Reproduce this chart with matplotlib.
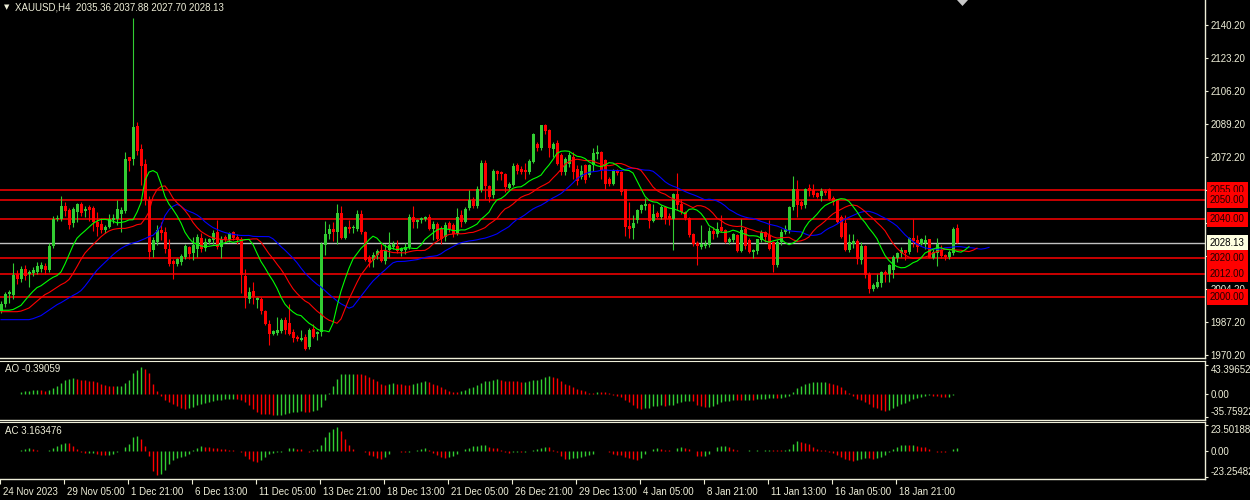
import numpy as np
import pandas as pd
import matplotlib
matplotlib.use("Agg")
import matplotlib.pyplot as plt
from matplotlib.patches import Polygon
from matplotlib.transforms import ScaledTranslation, blended_transform_factory

BG = "black"
FG = "#EEEED8"
BULL = "#32CD32"
BEAR = "#FF0000"
FONT = "Liberation Sans"

# XAUUSD H4 bars, 24 Nov 2023 .. 22 Jan 2024
opens = [
    1993.0, 1996.3, 2001.5, 2001.0, 2011.8, 2009.2, 2014.7, 2012.0, 2012.2, 2013.0,
    2014.7, 2016.1, 2013.9, 2026.4, 2040.0, 2040.0, 2046.8, 2044.8, 2038.0, 2043.8,
    2047.9, 2044.2, 2046.2, 2045.9, 2038.8, 2037.5, 2034.4, 2036.2, 2039.5, 2040.0,
    2043.0, 2044.4, 2072.0, 2071.0, 2088.0, 2076.5, 2068.5, 2049.9, 2024.2, 2028.5,
    2034.5, 2033.6, 2025.0, 2018.7, 2017.3, 2018.2, 2020.7, 2026.0, 2022.5, 2025.0,
    2030.5, 2025.4, 2028.5, 2029.3, 2033.3, 2026.0, 2031.0, 2029.3, 2033.6, 2031.0,
    2030.2, 2011.0, 1999.0, 2003.2, 1998.5, 1998.9, 1992.9, 1986.4, 1981.2, 1981.5,
    1982.4, 1988.1, 1986.8, 1982.0, 1979.5, 1977.8, 1979.5, 1974.4, 1983.8, 1981.0,
    1981.8, 2026.8, 2032.7, 2035.3, 2033.6, 2043.1, 2030.7, 2036.2, 2035.5, 2035.3,
    2042.7, 2033.6, 2020.7, 2019.0, 2021.6, 2024.2, 2018.7, 2024.2, 2026.0, 2026.4,
    2023.8, 2024.5, 2025.9, 2041.4, 2038.5, 2039.6, 2040.5, 2041.4, 2035.3, 2037.9,
    2035.3, 2031.0, 2038.0, 2037.0, 2032.7, 2042.2, 2038.8, 2045.8, 2050.8, 2046.9,
    2055.1, 2069.3, 2057.3, 2052.5, 2065.0, 2064.5, 2063.6, 2056.4, 2057.7, 2068.0,
    2065.8, 2065.3, 2064.5, 2069.7, 2079.0, 2077.0, 2088.6, 2086.0, 2076.5, 2079.2,
    2073.1, 2064.5, 2068.8, 2072.3, 2066.0, 2062.0, 2068.0, 2062.8, 2067.9, 2073.5,
    2075.0, 2070.5, 2061.0, 2058.5, 2065.3, 2064.5, 2055.5, 2036.6, 2035.8, 2039.6,
    2044.8, 2046.9, 2047.9, 2039.3, 2043.3, 2041.4, 2046.5, 2042.0, 2040.0, 2052.9,
    2048.2, 2043.9, 2041.0, 2032.7, 2028.0, 2025.9, 2026.2, 2026.8, 2034.0, 2032.3,
    2036.2, 2034.5, 2028.5, 2029.6, 2031.9, 2023.8, 2035.3, 2029.6, 2023.3, 2023.8,
    2029.3, 2033.6, 2031.9, 2028.5, 2016.4, 2028.5, 2033.6, 2034.5, 2046.5, 2055.5,
    2049.0, 2047.3, 2056.4, 2055.0, 2053.4, 2052.0, 2054.7, 2055.5, 2051.2, 2050.3,
    2041.4, 2038.2, 2024.5, 2027.3, 2029.0, 2019.0, 2026.2, 2012.0, 2004.0, 2005.3,
    2007.3, 2013.0, 2012.1, 2014.0, 2020.0, 2022.9, 2024.2, 2023.3, 2030.7, 2029.3,
    2027.6, 2027.7, 2029.7, 2020.4, 2022.9, 2024.2, 2021.6, 2020.7, 2022.5, 2035.36,
]
highs = [
    1998.0, 2002.7, 2003.5, 2017.8, 2013.9, 2016.0, 2016.4, 2014.0, 2015.5, 2018.0,
    2018.0, 2017.5, 2028.0, 2042.0, 2042.5, 2052.0, 2049.0, 2046.0, 2046.5, 2048.6,
    2049.0, 2047.0, 2047.5, 2047.0, 2043.9, 2041.0, 2037.0, 2043.0, 2043.0, 2050.0,
    2046.5, 2075.0, 2072.3, 2144.0, 2090.0, 2078.7, 2071.4, 2052.0, 2031.0, 2037.0,
    2038.8, 2036.0, 2030.0, 2019.5, 2020.0, 2022.0, 2027.5, 2026.4, 2031.0, 2032.7,
    2033.0, 2030.7, 2030.5, 2034.8, 2039.6, 2031.5, 2032.0, 2033.6, 2034.0, 2032.7,
    2031.0, 2014.7, 2005.2, 2007.8, 2000.0, 2000.1, 1993.5, 1988.0, 1983.0, 1989.8,
    1989.0, 1989.8, 1996.7, 1983.8, 1980.5, 1982.9, 1981.2, 1984.0, 1986.4, 1982.5,
    2028.5, 2039.0, 2037.6, 2038.8, 2047.9, 2046.9, 2036.6, 2039.5, 2037.0, 2044.8,
    2044.8, 2034.0, 2021.6, 2023.3, 2025.0, 2027.6, 2027.5, 2033.6, 2029.0, 2029.3,
    2026.0, 2028.0, 2043.0, 2046.9, 2040.5, 2041.5, 2042.0, 2042.7, 2039.0, 2038.8,
    2036.6, 2038.8, 2039.0, 2038.0, 2046.0, 2044.8, 2046.5, 2055.1, 2051.5, 2057.0,
    2070.5, 2070.6, 2058.0, 2066.0, 2065.5, 2065.0, 2064.0, 2059.5, 2069.3, 2069.0,
    2067.5, 2069.3, 2071.4, 2084.7, 2080.0, 2088.8, 2089.0, 2086.5, 2080.0, 2080.9,
    2074.0, 2072.3, 2075.0, 2075.0, 2068.0, 2067.9, 2068.5, 2068.8, 2076.6, 2078.3,
    2075.5, 2071.0, 2062.0, 2066.0, 2066.0, 2065.0, 2055.9, 2049.0, 2042.2, 2045.5,
    2048.0, 2051.0, 2048.5, 2047.9, 2044.5, 2047.5, 2047.0, 2043.5, 2053.4, 2064.0,
    2050.3, 2044.5, 2041.5, 2033.0, 2029.0, 2037.0, 2029.6, 2036.0, 2036.2, 2038.8,
    2042.2, 2035.0, 2031.0, 2032.8, 2032.5, 2040.1, 2036.2, 2030.5, 2025.0, 2030.2,
    2034.5, 2034.0, 2039.6, 2029.0, 2029.5, 2035.3, 2037.0, 2047.0, 2062.3, 2060.2,
    2050.0, 2056.4, 2058.5, 2058.5, 2054.0, 2056.4, 2055.5, 2056.0, 2052.0, 2050.8,
    2042.2, 2042.2, 2032.7, 2032.7, 2030.0, 2028.5, 2027.0, 2013.0, 2007.3, 2012.0,
    2013.5, 2014.0, 2017.3, 2021.6, 2023.3, 2025.9, 2024.5, 2031.0, 2040.0, 2031.9,
    2030.5, 2031.9, 2030.2, 2025.0, 2030.7, 2026.8, 2022.0, 2024.2, 2036.2, 2037.88,
]
lows = [
    1992.0, 1995.0, 1997.0, 1999.0, 2007.0, 2008.0, 2008.8, 2005.4, 2011.0, 2012.0,
    2013.0, 2011.8, 2013.0, 2025.5, 2039.0, 2039.0, 2042.0, 2035.0, 2036.0, 2038.8,
    2042.0, 2041.5, 2039.0, 2034.0, 2031.7, 2032.8, 2033.0, 2035.5, 2038.0, 2037.0,
    2033.6, 2043.5, 2065.0, 2068.0, 2073.0, 2057.7, 2047.4, 2019.9, 2020.5, 2027.0,
    2029.3, 2022.5, 2016.0, 2009.2, 2016.0, 2016.5, 2019.6, 2019.5, 2019.0, 2020.7,
    2023.0, 2024.0, 2027.5, 2027.6, 2025.0, 2020.0, 2028.5, 2028.5, 2029.5, 2027.5,
    2002.2, 1994.6, 1997.0, 1996.7, 1994.6, 1991.5, 1985.5, 1975.2, 1980.5, 1980.5,
    1981.5, 1981.0, 1980.4, 1976.9, 1977.5, 1977.5, 1972.6, 1973.5, 1979.0, 1977.8,
    1980.0, 2021.6, 2030.2, 2028.8, 2027.6, 2030.2, 2030.0, 2033.0, 2033.0, 2034.0,
    2032.7, 2018.4, 2015.6, 2015.6, 2019.5, 2018.2, 2017.0, 2020.7, 2025.0, 2022.5,
    2021.0, 2022.0, 2025.0, 2035.8, 2035.8, 2038.0, 2039.0, 2034.4, 2029.3, 2029.3,
    2027.3, 2029.0, 2033.5, 2031.0, 2032.0, 2036.2, 2038.0, 2045.0, 2046.0, 2046.0,
    2054.0, 2050.8, 2049.0, 2051.0, 2060.5, 2060.5, 2054.0, 2055.5, 2057.0, 2063.3,
    2063.5, 2061.0, 2063.5, 2069.0, 2075.5, 2076.0, 2084.3, 2072.3, 2072.0, 2067.9,
    2063.0, 2063.0, 2067.0, 2061.0, 2057.7, 2061.0, 2059.0, 2062.0, 2065.0, 2071.0,
    2061.0, 2055.9, 2057.5, 2058.0, 2063.0, 2052.5, 2031.4, 2030.7, 2030.2, 2038.0,
    2043.5, 2045.0, 2035.8, 2038.8, 2041.0, 2040.5, 2037.5, 2037.0, 2024.2, 2044.8,
    2043.0, 2039.6, 2031.0, 2026.2, 2016.4, 2025.0, 2025.5, 2026.0, 2030.0, 2031.0,
    2033.5, 2028.0, 2027.5, 2028.5, 2023.3, 2023.5, 2025.0, 2022.5, 2020.4, 2022.0,
    2028.5, 2028.5, 2024.2, 2013.0, 2015.5, 2027.0, 2032.5, 2033.0, 2044.8, 2041.4,
    2045.5, 2046.0, 2052.3, 2051.5, 2051.0, 2049.5, 2052.5, 2050.0, 2047.3, 2038.2,
    2030.5, 2023.8, 2023.5, 2025.5, 2017.3, 2017.3, 2010.0, 2001.9, 2003.0, 2004.5,
    2005.3, 2007.8, 2008.0, 2010.0, 2018.0, 2020.7, 2019.0, 2022.0, 2026.0, 2023.3,
    2027.0, 2025.0, 2020.0, 2019.4, 2016.0, 2020.4, 2019.0, 2019.4, 2021.6, 2027.70,
]
closes = [
    1996.5, 2001.8, 2002.5, 2011.3, 2009.2, 2014.4, 2011.0, 2013.0, 2014.2, 2016.0,
    2016.4, 2013.9, 2026.4, 2040.0, 2041.0, 2046.8, 2044.3, 2037.2, 2045.6, 2047.9,
    2043.4, 2045.5, 2045.0, 2038.8, 2036.2, 2034.4, 2036.2, 2040.5, 2041.0, 2045.5,
    2045.0, 2071.4, 2070.2, 2087.7, 2075.5, 2067.8, 2049.9, 2023.3, 2029.3, 2034.5,
    2032.8, 2025.0, 2017.3, 2017.3, 2019.4, 2021.1, 2026.4, 2022.1, 2027.0, 2031.0,
    2025.0, 2028.5, 2029.7, 2033.0, 2025.9, 2030.2, 2029.3, 2032.8, 2030.7, 2029.3,
    2011.3, 1999.3, 2002.7, 2000.1, 1999.5, 1992.9, 1986.4, 1981.2, 1982.4, 1983.0,
    1988.1, 1983.0, 1981.2, 1978.7, 1978.5, 1979.0, 1973.5, 1983.3, 1979.5, 1982.0,
    2027.3, 2032.7, 2035.3, 2033.3, 2043.1, 2030.7, 2036.2, 2035.3, 2036.3, 2043.0,
    2033.6, 2019.0, 2018.2, 2021.6, 2024.0, 2018.7, 2024.5, 2026.8, 2027.6, 2023.8,
    2025.4, 2026.0, 2041.4, 2038.8, 2039.6, 2041.0, 2041.5, 2035.3, 2037.9, 2030.2,
    2030.2, 2037.0, 2035.3, 2032.7, 2041.4, 2038.8, 2045.6, 2049.9, 2046.9, 2055.9,
    2069.3, 2057.3, 2051.6, 2065.0, 2063.3, 2063.3, 2056.8, 2058.5, 2067.6, 2065.0,
    2064.5, 2064.5, 2070.2, 2084.3, 2077.0, 2088.6, 2085.5, 2076.6, 2079.0, 2068.8,
    2064.5, 2071.4, 2073.1, 2064.5, 2060.0, 2065.0, 2060.2, 2067.9, 2074.0, 2074.9,
    2065.6, 2058.5, 2058.5, 2065.0, 2064.0, 2054.2, 2036.2, 2035.3, 2038.2, 2044.8,
    2047.3, 2047.9, 2039.3, 2043.0, 2041.4, 2046.5, 2040.0, 2040.5, 2052.9, 2047.3,
    2043.9, 2041.0, 2031.9, 2027.3, 2026.2, 2027.3, 2027.6, 2034.0, 2032.3, 2035.3,
    2034.0, 2028.5, 2030.2, 2032.3, 2023.8, 2034.8, 2026.2, 2023.3, 2024.5, 2029.7,
    2033.6, 2031.0, 2025.0, 2016.4, 2028.5, 2033.6, 2035.3, 2046.5, 2055.5, 2047.3,
    2046.9, 2055.9, 2054.7, 2052.5, 2051.6, 2054.7, 2053.7, 2050.3, 2049.0, 2038.8,
    2031.0, 2024.5, 2028.5, 2029.0, 2019.4, 2026.2, 2011.3, 2004.0, 2006.2, 2007.8,
    2013.0, 2012.0, 2016.4, 2020.7, 2022.9, 2024.2, 2022.9, 2030.7, 2029.0, 2025.9,
    2029.7, 2029.3, 2020.4, 2023.3, 2027.6, 2021.1, 2020.7, 2023.3, 2035.3, 2028.13,
]

# Alligator (SMMA of median price): period, forward shift, colour, value before the first bar
jaw_params = (13, 8, "#0000FF", 1988.4)
teeth_params = (8, 5, "#FF0000", 1992.5)
lips_params = (5, 3, "#00FF00", 1993.25)

LEVELS = [2055.0, 2050.0, 2040.0, 2020.0, 2012.0, 2000.0]
LAST_PRICE = 2028.13
PRICE_TICKS = [2140.20, 2123.20, 2106.20, 2089.20, 2072.20, 2055.20,
               2038.20, 2021.20, 2004.20, 1987.20, 1970.20]
TIME_BARS = [0, 16, 32, 48, 64, 80, 96, 112, 128, 144, 160, 176, 192, 208, 224]
TIME_LABELS = ["24 Nov 2023", "29 Nov 05:00", "1 Dec 21:00", "6 Dec 13:00",
               "11 Dec 05:00", "13 Dec 21:00", "18 Dec 13:00", "21 Dec 05:00",
               "26 Dec 21:00", "29 Dec 13:00", "4 Jan 05:00", "8 Jan 21:00",
               "11 Jan 13:00", "16 Jan 05:00", "18 Jan 21:00"]
HEADER = "XAUUSD,H4  2035.36 2037.88 2027.70 2028.13"
AO_LABEL = "AO -0.39059"
AC_LABEL = "AC 3.163476"
AO_TICKS = [43.39652, 0.0, -35.75922]
AO_TICK_LABELS = ["43.39652", "0.00", "-35.75922"]
AC_TICKS = [23.501881, 0.0, -23.25482]
AC_TICK_LABELS = ["23.501881", "0.00", "-23.25482"]

FS = 7.0


def smma(values, period, seed):
    out = np.empty(len(values))
    prev = seed
    for i, v in enumerate(values):
        prev = (prev * (period - 1) + v) / period
        out[i] = prev
    return out


def style_axis(ax):
    ax.set_facecolor(BG)
    for side in ("left", "top"):
        ax.spines[side].set_visible(False)
    for side in ("right", "bottom"):
        ax.spines[side].set_color(FG)
        ax.spines[side].set_linewidth(1.0)
    ax.yaxis.tick_right()
    ax.tick_params(axis="y", colors=FG, labelcolor=FG, length=2.5, width=0.8,
                   pad=1.5, labelsize=FS)


o = np.array(opens)
h = np.array(highs)
l = np.array(lows)
c = np.array(closes)
n = len(c)
x = np.arange(n)
med = (h + l) / 2

fig = plt.figure(figsize=(12.5, 5), dpi=100, facecolor=BG)
W, H = 1250.0, 500.0
ax = fig.add_axes([0, 1 - 358 / H, 1205 / W, 358 / H])
ax_ao = fig.add_axes([0, 1 - 420 / H, 1205 / W, 59 / H], sharex=ax)
ax_ac = fig.add_axes([0, 1 - 479 / H, 1205 / W, 57 / H], sharex=ax)

# --- price panel ---
up = c >= o
cols = np.where(up, BULL, BEAR)
ax.vlines(x, l, h, colors=cols, linewidth=0.8, zorder=3)
body_lo = np.minimum(o, c)
body_h = np.maximum(np.abs(c - o), 0.45)
ax.bar(x, body_h, bottom=body_lo, width=0.75, color=cols, linewidth=0, zorder=3)

for period, shift, color, seed in (jaw_params, teeth_params, lips_params):
    line = smma(med, period, seed)
    xs = np.concatenate([np.arange(shift), x + shift])
    ys = np.concatenate([np.full(shift, seed), line])
    ax.plot(xs, ys, color=color, linewidth=0.8, zorder=4)

for lvl in LEVELS:
    ax.axhline(lvl, color=BEAR, linewidth=1.1, zorder=2)
ax.axhline(LAST_PRICE, color="#C0C0C0", linewidth=1.0, zorder=2)

ax.set_xlim(-0.25, 301.0)
ax.set_ylim(1968.64, 2153.08)
style_axis(ax)
ax.set_yticks(PRICE_TICKS)
ax.set_yticklabels([f"{t:.2f}" for t in PRICE_TICKS], fontfamily=FONT)
ax.tick_params(axis="x", bottom=False, labelbottom=False)

tr = blended_transform_factory(ax.transAxes, ax.transData)
for lvl in LEVELS:
    ax.text(1.0 + 5 / 1205, lvl, f"{lvl:.2f}", transform=tr, fontsize=FS,
            fontfamily=FONT, color="#200000", va="center", ha="left", clip_on=False,
            zorder=6, bbox=dict(boxstyle="square,pad=0.3", fc=BEAR, ec="none"))
ax.text(1.0 + 5 / 1205, LAST_PRICE, f"{LAST_PRICE:.2f}", transform=tr, fontsize=FS,
        fontfamily=FONT, color="black", va="center", ha="left", clip_on=False,
        zorder=6, bbox=dict(boxstyle="square,pad=0.3", fc="#FFFFE0", ec="none"))

# --- Awesome Oscillator ---
ao = (pd.Series(med).rolling(5, min_periods=1).mean()
      - pd.Series(med).rolling(34, min_periods=1).mean()).to_numpy()
ac = ao - pd.Series(ao).rolling(5, min_periods=1).mean().to_numpy()


def osc_colors(v):
    prev = np.concatenate([[v[0]], v[:-1]])
    return np.where(v >= prev, BULL, BEAR)


ax_ao.vlines(x, 0, ao, colors=osc_colors(ao), linewidth=1.0)
ax_ao.set_ylim(-39.8, 49.5)
style_axis(ax_ao)
ax_ao.spines["top"].set_visible(True)
ax_ao.spines["top"].set_color(FG)
ax_ao.set_yticks(AO_TICKS)
ax_ao.set_yticklabels(AO_TICK_LABELS, fontfamily=FONT)
ax_ao.tick_params(axis="x", bottom=False, labelbottom=False)
ax_ao.text(5 / 1205, 1 - 8 / 59, AO_LABEL, transform=ax_ao.transAxes, color=FG,
           fontsize=FS, fontfamily=FONT, va="center", ha="left")

# --- Accelerator Oscillator ---
ax_ac.vlines(x, 0, ac, colors=osc_colors(ac), linewidth=1.0)
ax_ac.set_ylim(-25.05, 26.2)
style_axis(ax_ac)
ax_ac.spines["top"].set_visible(True)
ax_ac.spines["top"].set_color(FG)
ax_ac.set_yticks(AC_TICKS)
ax_ac.set_yticklabels(AC_TICK_LABELS, fontfamily=FONT)
ax_ac.text(5 / 1205, 1 - 9 / 57, AC_LABEL, transform=ax_ac.transAxes, color=FG,
           fontsize=FS, fontfamily=FONT, va="center", ha="left")

for a in (ax_ao, ax_ac):
    lbls = a.get_yticklabels()
    lbls[0].set_va("top")
    lbls[-1].set_va("bottom")

ax_ac.set_xticks([b - 0.25 for b in TIME_BARS])
ax_ac.set_xticklabels(TIME_LABELS, fontfamily=FONT, ha="left")
ax_ac.tick_params(axis="x", colors=FG, labelcolor=FG, length=3.5, width=0.8,
                  pad=2, labelsize=FS)
shift_lbl = ScaledTranslation(2 / 72, 0, fig.dpi_scale_trans)
for lbl in ax_ac.get_xticklabels():
    lbl.set_transform(lbl.get_transform() + shift_lbl)

# --- header and chart-shift marker ---
fig.text(4 / W, 1 - 7 / H, "\u25bc", color=FG, fontsize=5, fontfamily="DejaVu Sans",
         va="center", ha="left")
fig.text(15 / W, 1 - 7 / H, HEADER, color=FG, fontsize=FS, fontfamily=FONT,
         va="center", ha="left")
fig.add_artist(Polygon([(957 / W, 1.0), (968 / W, 1.0), (962.5 / W, 1 - 6 / H)],
                       closed=True, transform=fig.transFigure, fc="#C8C8C8", ec="none"))

fig.savefig("out.png", dpi=100, facecolor=BG)
